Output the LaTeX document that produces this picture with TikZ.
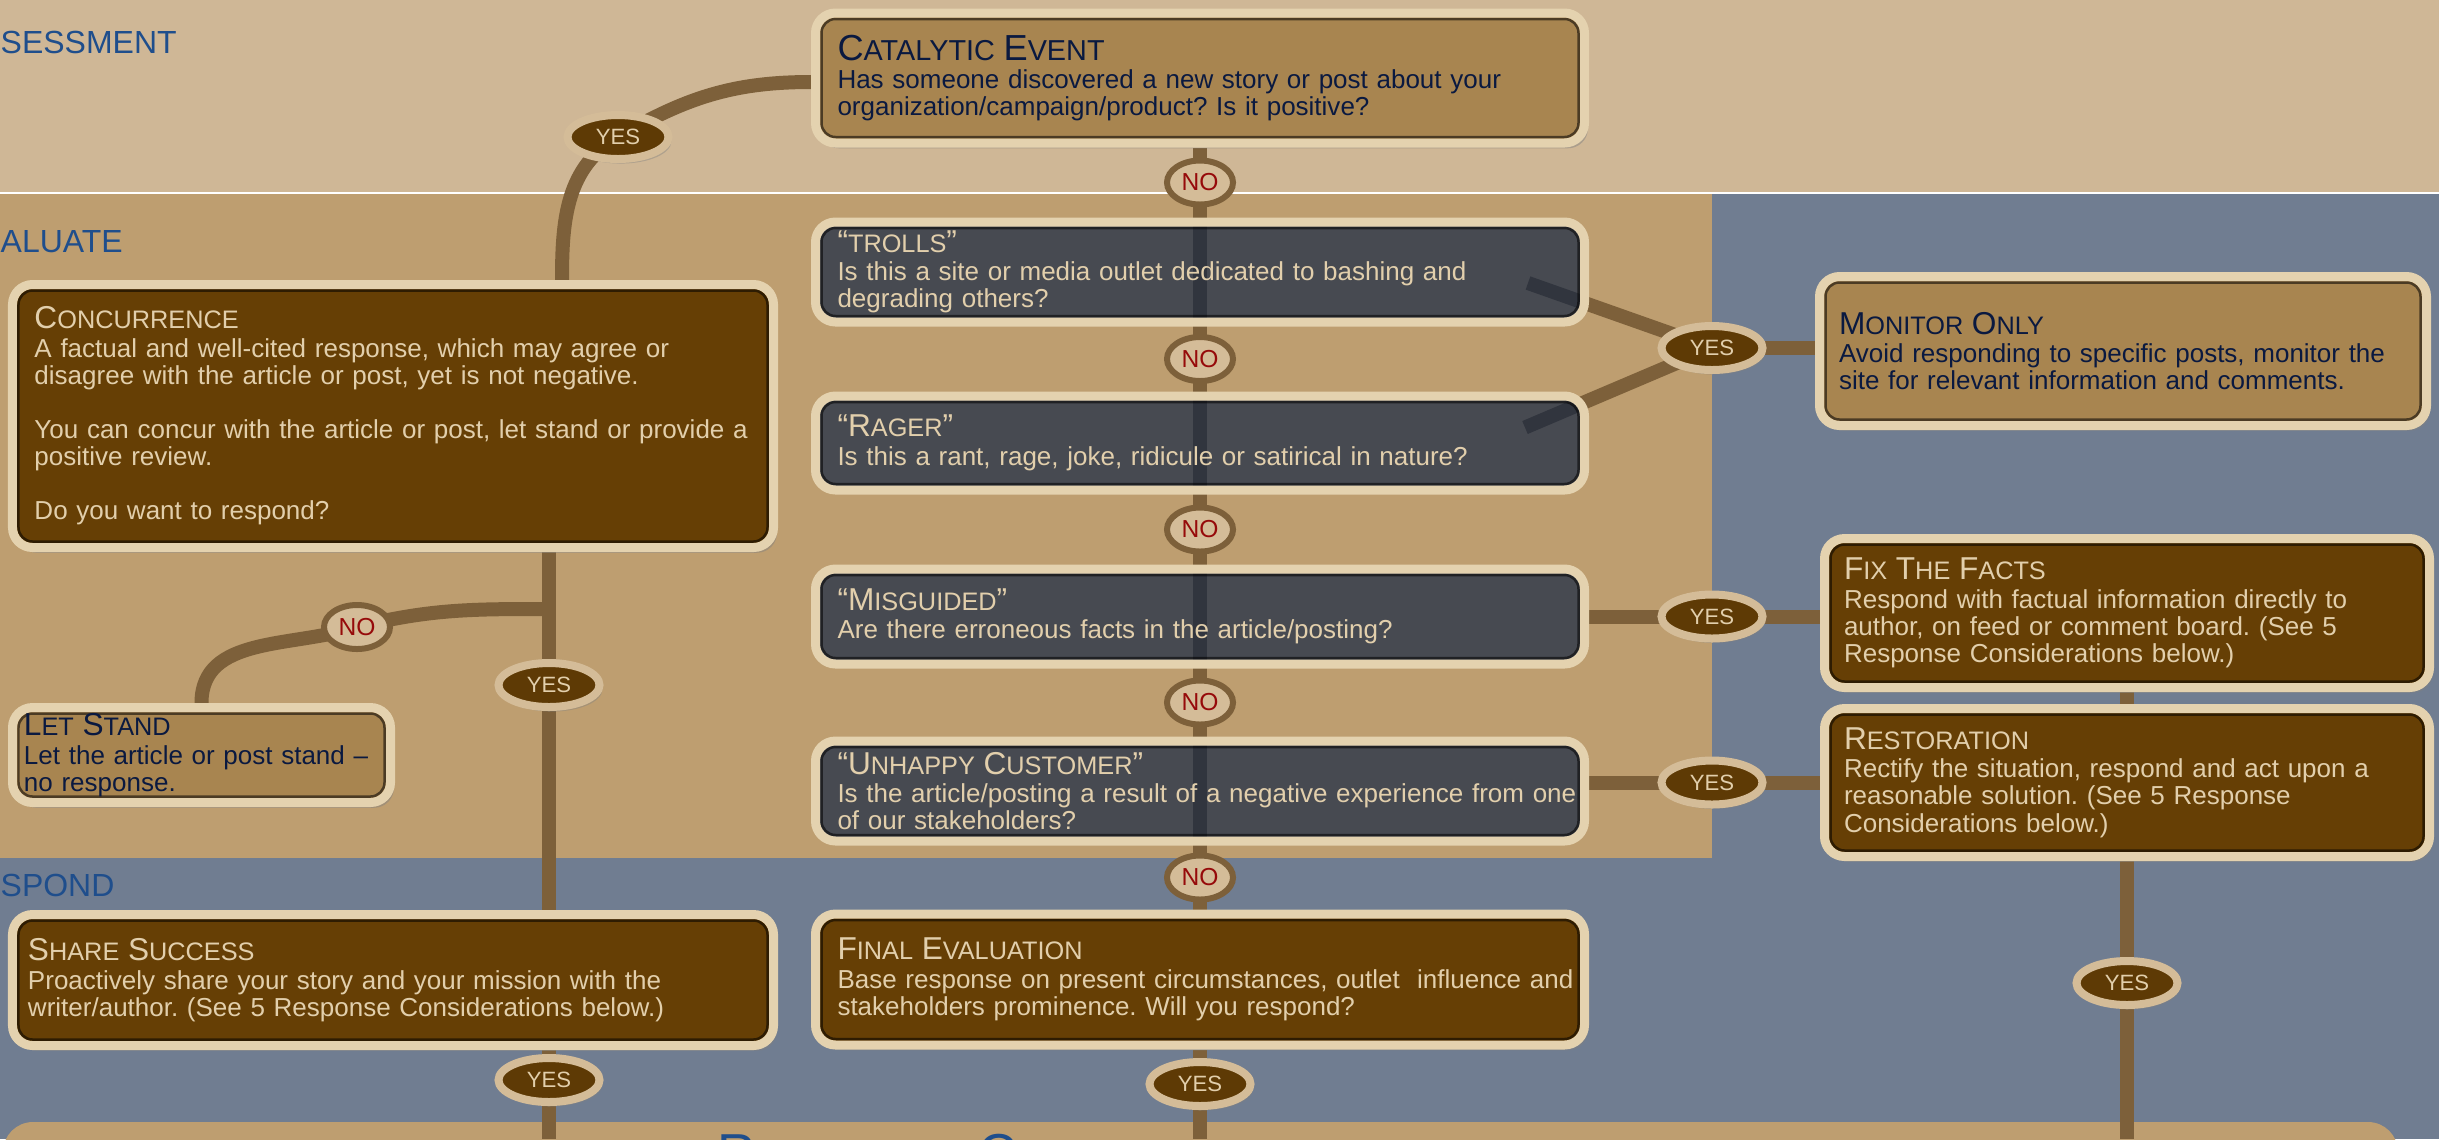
\documentclass[tikz,border=0pt]{standalone}
\usepackage{fontspec}
\setmainfont{Liberation Sans}
\usetikzlibrary{positioning,shapes.geometric,shadows,calc}

\definecolor{bandtop}{RGB}{207,183,150}
\definecolor{bandmid}{RGB}{190,158,112}
\definecolor{slate}{RGB}{112,125,145}
\definecolor{linkbrown}{RGB}{125,96,58}
\definecolor{tanfill}{RGB}{168,133,80}
\definecolor{brownfill}{RGB}{102,63,5}
\definecolor{grayfill}{RGB}{10,31,65}
\definecolor{rim}{RGB}{228,210,175}
\definecolor{navytext}{RGB}{10,25,64}
\definecolor{beigetext}{RGB}{226,207,172}
\definecolor{secblue}{RGB}{31,78,140}
\definecolor{nofill}{RGB}{212,188,152}
\definecolor{nored}{RGB}{150,10,10}
\definecolor{yesfill}{RGB}{94,58,5}

\pgfdeclarelayer{bands}
\pgfdeclarelayer{links}
\pgfsetlayers{bands,links,main}

\frenchspacing
\newcommand{\smsize}{7.2pt}
\newcommand{\sm}[1]{{\fontsize{\smsize}{\smsize}\selectfont #1}}
\newcommand{\hd}[2][9pt]{{\fontsize{#1}{#1}\selectfont #2}\\[0.4pt]}

\begin{document}
\begin{tikzpicture}[
  box/.style={draw=rim,line width=0.09cm,rounded corners=0.2cm,inner sep=0pt,align=left,
    font=\fontsize{7.4pt}{7.7pt}\selectfont,
    path picture={\draw[black,opacity=0.55,line width=0.025cm,rounded corners=0.14cm]
      ([shift={(0.06,0.06)}]path picture bounding box.south west) rectangle
      ([shift={(-0.06,-0.06)}]path picture bounding box.north east);}},
  shadowed/.style={drop shadow={opacity=0.45,shadow xshift=1pt,shadow yshift=-1.5pt}},
  tanbox/.style={box,shadowed,fill=tanfill,text=navytext},
  brownbox/.style={box,shadowed,fill=brownfill,text=beigetext},
  graybox/.style={box,fill=grayfill,fill opacity=0.66,text opacity=1,text=beigetext},
  mid/.style={minimum width=7.69cm,text width=7.25cm},
  nomark/.style={ellipse,draw=linkbrown,line width=0.06cm,fill=nofill,text=nored,inner sep=0pt,
    minimum width=0.66cm,minimum height=0.44cm,font=\fontsize{7pt}{7pt}\selectfont},
  yesmark/.style={ellipse,draw=nofill,line width=0.08cm,fill=yesfill,text=beigetext,inner sep=0pt,
    minimum width=1.01cm,minimum height=0.44cm,font=\fontsize{6.3pt}{6.3pt}\selectfont,
    drop shadow={opacity=0.4,shadow xshift=0.8pt,shadow yshift=-1.3pt}},
  conn/.style={draw=linkbrown,line width=0.14cm},
  sec/.style={anchor=base west,inner sep=0pt,text=secblue,font=\fontsize{9.1pt}{9.1pt}\selectfont}
]
\useasboundingbox (0,0) rectangle (24.39,-11.39);

\begin{pgfonlayer}{bands}
\begin{scope}
\clip (0,0) rectangle (24.39,-11.39);
\fill[bandtop] (0,0) rectangle (24.39,-1.93);
\fill[slate] (0,-1.93) rectangle (24.39,-11.39);
\fill[bandmid] (0,-1.93) rectangle (17.12,-8.58);
\fill[bandmid,rounded corners=0.3cm] (0.03,-11.22) rectangle (23.98,-12);
\draw[white,line width=0.025cm] (0,-1.93) -- (24.39,-1.93);
\end{scope}
\end{pgfonlayer}

\node[sec] (assess) at (0,-0.53) {SESSMENT};
\node[sec] (evaluate) at (0,-2.52) {ALUATE};
\node[sec] (respond) at (0,-8.96) {SPOND};
\begin{scope}
\clip (0,-11.0) rectangle (24.39,-11.39);
\node[anchor=base west,inner sep=0pt,text=secblue,font=\fontsize{15.2pt}{15.2pt}\selectfont] (consid) at (7.17,-11.71) {\def\smsize{12.2pt}R\sm{ESPONSE} C\sm{ONSIDERATIONS}};
\end{scope}

\node[tanbox,mid,minimum height=1.30cm] (cat) at (12.0,-0.78) {\hd[10.3pt]{\def\smsize{8.2pt}C\sm{ATALYTIC} E\sm{VENT}}Has someone discovered a new story or post about your\\organization/campaign/product? Is it positive?};
\node[graybox,mid,minimum height=1.00cm,below=0.70cm of cat] (trolls) {\hd{“\sm{TROLLS}”}Is this a site or media outlet dedicated to bashing and\\degrading others?};
\node[graybox,mid,minimum height=0.94cm,below=0.65cm of trolls] (rager) {\hd{“R\sm{AGER}”}Is this a rant, rage, joke, ridicule or satirical in nature?};
\node[graybox,mid,minimum height=0.95cm,below=0.70cm of rager] (misg) {\hd{“M\sm{ISGUIDED}”}Are there erroneous facts in the article/posting?};
\node[graybox,mid,minimum height=1.00cm,below=0.68cm of misg] (unhappy) {\hd{“U\sm{NHAPPY} C\sm{USTOMER}”}\mbox{Is the article/posting a result of a negative experience from one}\\of our stakeholders?};
\node[brownbox,mid,minimum height=1.31cm,below=0.64cm of unhappy] (final) {\hd{F\sm{INAL} E\sm{VALUATION}}\mbox{Base response on present circumstances, outlet~ influence and}\\stakeholders prominence. Will you respond?};

\node[brownbox,minimum width=7.61cm,text width=7.17cm,minimum height=2.63cm] (conc) at (3.93,-4.16) {\hd{C\sm{ONCURRENCE}}A factual and well-cited response, which may agree or\\disagree with the article or post, yet is not negative.\\[7.7pt]\mbox{You can concur with the article or post, let stand or provide a}\\positive review.\\[7.7pt]Do you want to respond?};
\node[tanbox,minimum width=3.78cm,text width=3.55cm,minimum height=0.95cm] (stand) at (2.015,-7.55) {\hd{L\sm{ET} S\sm{TAND}}Let the article or post stand --\\no response.};
\node[brownbox,minimum width=7.61cm,text width=7.30cm,minimum height=1.31cm] (share) at (3.93,-9.80) {\hd{S\sm{HARE} S\sm{UCCESS}}Proactively share your story and your mission with the\\writer/author. (See 5 Response Considerations below.)};

\node[tanbox,minimum width=6.07cm,text width=5.68cm,minimum height=1.49cm] (monitor) at (21.23,-3.51) {\hd{M\sm{ONITOR} O\sm{NLY}}Avoid responding to specific posts, monitor the\\site for relevant information and comments.};
\node[brownbox,minimum width=6.05cm,text width=5.66cm,minimum height=1.49cm] (fix) at (21.27,-6.13) {\hd{F\sm{IX} T\sm{HE} F\sm{ACTS}}Respond with factual information directly to\\author, on feed or comment board. (See 5\\Response Considerations below.)};
\node[brownbox,minimum width=6.05cm,text width=5.66cm,minimum height=1.48cm,below=0.12cm of fix] (resto) {\hd{R\sm{ESTORATION}}Rectify the situation, respond and act upon a\\reasonable solution. (See 5 Response\\Considerations below.)};

\node[nomark] (no1) at ($(cat.south)!0.5!(trolls.north)$) {NO};
\node[nomark] (no2) at ($(trolls.south)!0.5!(rager.north)$) {NO};
\node[nomark] (no3) at ($(rager.south)!0.5!(misg.north)$) {NO};
\node[nomark] (no4) at ($(misg.south)!0.5!(unhappy.north)$) {NO};
\node[nomark] (no5) at ($(unhappy.south)!0.5!(final.north)$) {NO};
\node[nomark] (no6) at (3.57,-6.27) {NO};
\node[yesmark] (yes1) at (6.18,-1.37) {YES};
\node[yesmark] (yes2) at (5.49,-6.85) {YES};
\node[yesmark] (yes3) at (17.12,-3.48) {YES};
\node[yesmark] (yes4) at (misg.east -| yes3) {YES};
\node[yesmark] (yes5) at (resto.west -| yes3) {YES};
\node[yesmark] (yes6) at (21.27,-9.83) {YES};
\node[yesmark] (yes7) at (5.49,-10.80) {YES};
\node[yesmark] (yes8) at (12.0,-10.84) {YES};
\coordinate (fork) at (5.49,-6.09);
\coordinate (end1) at (5.49,-11.39);
\coordinate (end2) at (12.0,-11.39);
\coordinate (end3) at (21.27,-11.39);

\begin{pgfonlayer}{links}
\draw[conn] ([yshift=-0.04cm]cat.west) to[out=180,in=30] (yes1.center) to[out=210,in=90] ([xshift=1.69cm]conc.north);
\draw[conn] (cat.south) -- (final.north);
\draw[conn] (conc.south -| yes2) -- (share.north -| yes2);
\draw[conn] (fork) to[out=180,in=14] (no6.center) to[out=198,in=90] (stand.north);
\draw[conn] ([shift={(3.28,-0.11)}]trolls.center) -- (yes3.center) -- ([shift={(3.25,0.155)}]rager.center);
\draw[conn] (yes3.center) -- (monitor.west |- yes3);
\draw[conn] (misg.east) -- (fix.west |- yes4);
\draw[conn] (unhappy.east |- yes5) -- (resto.west);
\draw[conn] (fix.south) -- (resto.north);
\draw[conn] (resto.south) -- (end3);
\draw[conn] (share.south -| yes7) -- (end1);
\draw[conn] (final.south) -- (end2);
\end{pgfonlayer}
\end{tikzpicture}
\end{document}
